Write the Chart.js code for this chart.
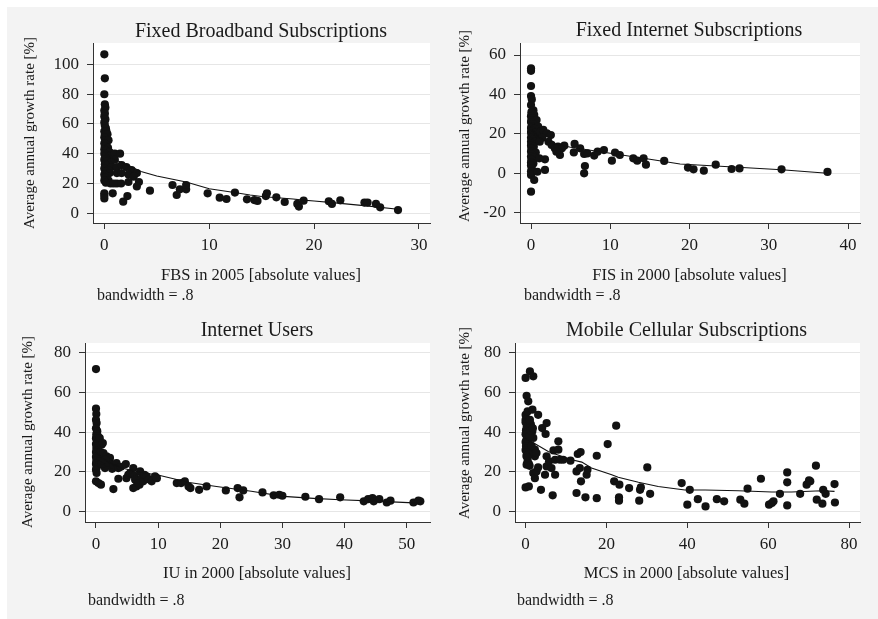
<!DOCTYPE html>
<html><head><meta charset="utf-8">
<script src="https://cdn.jsdelivr.net/npm/chart.js@4.4.1/dist/chart.umd.min.js"></script>
<style>
html,body{margin:0;padding:0;background:#fff;width:878px;height:619px;overflow:hidden}
#bg{position:absolute;left:7px;top:7px;width:871px;height:612px;background:#f3f3f3}
canvas{position:absolute}
</style></head><body>
<div id="bg"></div>
<canvas id="c1" width="439" height="309" style="left:0px;top:0px;width:439px;height:309px"></canvas>
<canvas id="c2" width="439" height="309" style="left:439px;top:0px;width:439px;height:309px"></canvas>
<canvas id="c3" width="439" height="310" style="left:0px;top:309px;width:439px;height:310px"></canvas>
<canvas id="c4" width="439" height="310" style="left:439px;top:309px;width:439px;height:310px"></canvas>
<script>
// ---------- Panel 1: Fixed Broadband Subscriptions ----------
const fbsX = [0,0.05,0,0.05,0.1,0,0.05,0,0.1,0,0.05,0.15,0,0.2,0.05,0.3,0,0.1,0.4,0,0.2,0.05,0.35,0,0.15,0.5,0,0.25,0.1,0.5,0,0.3,0.6,0.05,0.2,0.7,0,0.4,0.1,0.5,0,0.25,0.05,0.4,0,0.15,0.6,0,0,0,0.8,1,1.5,1,1.2,1.2,1.2,0.9,1.6,1.65,2.1,2.6,3.1,1.65,2.3,2.8,3.3,2.3,3.1,1.8,2.2,4.35,6.5,6.9,7.2,7.8,7.8,9.85,11,11.65,12.45,13.6,14.3,14.6,15.4,15.5,16.4,17.2,18.4,18.55,19,21.4,21.7,22.5,24.8,25.1,25.9,26.3,28];
const fbsY = [106.7,90.6,79.9,73.2,71,69,67,65,63,61,59,57,55,55,53,53,51,49,49,47,46,45,44,43,42,41,40,39,38,38,36,35,34,33,32,31,30,29,28,27,26,25,24,22,22,20.5,20,13.4,12,10,13.4,40,40,36,31,27,20,20,20,32.4,31,29,27,27,26,24.6,21,21,18,7.8,11.6,15.2,19,12.3,16.1,16.1,19,13.4,10.5,9.6,13.9,9.4,8.9,8.3,11.6,13.4,10.7,7.6,6.3,4.5,8.5,8.1,6.3,8.7,7.2,7.2,6.3,4,2.2];
const fbsFitX = [0,0.5,1,1.5,2.6,3.5,5,7.8,10,12.4,13.9,15,18,18.7,20,22,25,28];
const fbsFitY = [42,38,36,34.6,31,28,25,21,16.5,14,12.3,11.3,9.6,9,8.3,7,5,2.7];
const fbsXTicks = [0,10,20,30];
const fbsYTicks = [0,20,40,60,80,100];
const fbsXRange = [-1.08,31.05];
const fbsYRange = [-6.5,114.3];

// ---------- Panel 2: Fixed Internet Subscriptions ----------
const fisX = [0,0,0,0,0.1,0,0.3,0.05,0.4,0,0.15,0.05,0.7,0,0.25,0.1,0.9,0,0.4,0.15,0,0.6,0.05,0.3,0,0.8,0.2,0,0.5,0.1,0,0.35,0.05,0,0.6,0.15,0,0.4,0.05,0,0.3,0,0.1,0,0,0.8,0.4,0,1.2,1.55,2,2.5,1.4,1.1,1.76,1.76,1.05,2.2,2.6,3,3.4,3.9,4.2,3.65,3.2,5.5,5.4,6.2,6.7,7.1,6.8,6.7,7.97,8.4,9.2,10.2,10.6,11.2,12.9,13.4,14.2,14.5,16.8,19.8,20.5,21.8,23.3,25.3,26.3,31.6,37.4];
const fisY = [53.2,52,44.3,39.2,37.5,34.6,32,31,29.6,29,28,27,27,26,25,24,23.7,23,22.5,21.5,21,20.5,20,19,18,18,17,16,16,15,14,13.5,12.5,11,10.5,9.5,8.5,8,7,5.5,5,4,2.5,1,-0.8,0.8,-3.4,-9.3,21,22,20.3,19.4,18,16,7.1,1.7,7.6,16,14.4,12.7,13.5,12.7,14,9.3,11,14.9,10.6,12.7,9.8,10.1,3.7,0,9,11,11.8,6.4,10.5,9.3,7.6,6.4,7.6,4.4,6.3,2.9,2,1.35,4.4,2.2,2.5,2,0.7];
const fisFitX = [0,0.5,1,2,2.4,5,10,15,18.8,25,31.6,37.4];
const fisFitY = [22,20,18,16,15.4,13.2,10.2,7.1,4.7,3.3,1.8,0];
const fisXTicks = [0,10,20,30,40];
const fisYTicks = [-20,0,20,40,60];
const fisXRange = [-1.39,41.5];
const fisYRange = [-25.2,66.1];

// ---------- Panel 3: Internet Users ----------
const iuX = [0,0,0.05,0,0.1,0,0.2,0.05,0.3,0,0.15,0.45,0,0.25,0.05,0.35,0,0.15,0.5,0,0.25,0.05,0.4,0,0.2,0.1,0,0.1,0,0.4,0.8,0.6,0.9,1.1,0.7,1.2,1.7,2.25,1.45,0.9,1.3,2,1.5,2.6,2.8,3.3,3.6,2.8,3.6,4,4.8,4.9,5.2,5.5,6,6,6.2,6.3,6.5,7,7.1,7.35,6.8,7.6,7.8,8.15,8.5,8.96,9.5,9.8,13,13.7,14.3,14.9,15.2,16.6,17.8,20.9,22.8,23.1,23.7,26.8,28.6,29.5,30,33.7,35.9,39.3,43.1,43.8,44.5,44.7,45.6,46.8,47.4,51.1,51.9,52.2];
const iuY = [71.9,51.9,49.2,46.3,44.6,42,40.5,39,38,37,36,35.5,34,33,32,31,30,29,28.5,27.5,26.5,25.5,25,24,23,22,21,19.4,15.2,14.3,13.5,37,33.7,34.5,30,29.5,27.8,27,21.9,24,25.5,24.5,26,21.5,23.6,24.4,21.9,11.3,16.5,22.5,23.9,16.8,18.5,19.4,21.9,11.8,18,16,12.6,13.5,20.2,16.8,14.3,15.2,18.5,17.7,16.2,15.2,17.7,16.8,14.3,14.3,15.2,12.6,11.8,10.9,12.6,10.6,11.8,7.1,10.6,9.6,8.1,8.4,7.9,7.4,6.2,7.1,5.1,6.2,6.7,5.1,6.2,4.5,5.4,4.5,5.4,5.1];
const iuFitX = [0,1,2,4,6,8,9.8,15,19.4,25,30.2,35,39.3,45,52];
const iuFitY = [30,27,25,22,20.5,19.3,18.5,14.6,12.6,10.2,7.6,6.6,5.9,5.2,4.2];
const iuXTicks = [0,10,20,30,40,50];
const iuYTicks = [0,20,40,60,80];
const iuXRange = [-1.77,53.76];
const iuYRange = [-5.35,85.05];

// ---------- Panel 4: Mobile Cellular Subscriptions ----------
const mcsX = [0,1.07,1.9,0.25,0.66,0,0.5,1.7,3.1,0,1.65,4.1,5.2,4.95,0,0.8,0.25,0.5,1.9,2.3,2.7,2.3,2.3,1.9,3.1,3.8,4.8,5.2,5.2,5.8,6.4,6.7,7.3,6.9,8.1,8.1,7.3,8.5,9.3,11.1,12.6,12.6,12.9,13.6,13.4,13.7,15.1,15.3,14.8,17.6,17.6,20.3,22.4,21.9,23.2,23.1,23.1,25.6,28.3,28.5,28.1,30.1,30.8,38.6,40.6,40,42.6,44.5,47.3,49.1,53.1,54.1,54.9,58.2,60.2,60.9,61.3,62.9,64.7,64.7,64.7,67.9,69.5,70.1,70.4,71.8,72,73.4,73.6,74.2,76.4,76.5,0,0.3,0.1,0.6,0,0.4,0.2,0,0.7,0.1,0.5,0,0.3,0.8,0.2,1,1.2,1.5,1.3,0.9,1.8,0.5,0.8,1.0,1.07,2.7];
const mcsY = [67.4,70.7,68.2,58.4,55.6,48.8,50.5,51.4,48.8,46.3,40.4,42.1,44.6,39.1,12.1,12.6,23.6,25.3,19.4,16.8,20.2,27.8,31.2,37.1,22.2,10.9,18.5,22.7,27.8,25.3,21.9,8.1,18.5,30.8,35.4,31.2,26.1,26.1,26.1,25.6,9.3,20.2,29,30,21.9,15.2,18.5,21,7.1,28.1,6.7,34,43.3,15.2,13.5,7.1,5.4,11.8,10.9,12.1,5.4,22.2,8.9,14.3,10.9,3.4,6.2,2.5,6.2,5.1,5.9,3.9,11.5,16.5,3.4,4.2,5.1,8.9,19.7,14.7,3,8.9,13.5,15.7,15.2,23.1,5.9,3.9,10.9,8.9,13.8,4.5,45,43,41,40,39,37.5,36,35,34,33,32,31,30,29,28,38,41,33,44,46,42,27,24,23,46.3,29.5];
const mcsFitX = [0,1.07,5.6,8,11.4,13.9,16.3,21.3,22.9,27.9,32.8,39.4,44.4,52.6,60.9,65.8,73.2,76.4];
const mcsFitY = [37,35.7,30.3,28.5,26.1,24.9,21.9,18.5,17.2,14.7,12.6,10.8,10.8,10.4,9.8,9.8,10.4,10.1];
const mcsXTicks = [0,20,40,60,80];
const mcsYTicks = [0,20,40,60,80];
const mcsXRange = [-2.62,82.7];
const mcsYRange = [-5.35,85.05];

const yAxisTitle = 'Average annual growth rate [%]';
const noteText = 'bandwidth = .8';

const FONT = '"Liberation Serif", "Times New Roman", serif';
const INK = '#1a1a1a';

const panels = [
  {id:'c1', off:[0,0], size:[439,309], area:[93,43,430,223],
   title:'Fixed Broadband Subscriptions', xTitle:'FBS in 2005 [absolute values]',
   X:fbsX, Y:fbsY, FX:fbsFitX, FY:fbsFitY, xt:fbsXTicks, yt:fbsYTicks, xr:fbsXRange, yr:fbsYRange,
   titlePos:[261,36.5], xTitlePos:[261,280], notePos:[97,300], yTitlePos:[30,133]},
  {id:'c2', off:[439,0], size:[439,309], area:[520,43,860,223],
   title:'Fixed Internet Subscriptions', xTitle:'FIS in 2000 [absolute values]',
   X:fisX, Y:fisY, FX:fisFitX, FY:fisFitY, xt:fisXTicks, yt:fisYTicks, xr:fisXRange, yr:fisYRange,
   titlePos:[689,36], xTitlePos:[689.5,280], notePos:[524,300], yTitlePos:[465,126]},
  {id:'c3', off:[0,309], size:[439,310], area:[85,343,430,522],
   title:'Internet Users', xTitle:'IU in 2000 [absolute values]',
   X:iuX, Y:iuY, FX:iuFitX, FY:iuFitY, xt:iuXTicks, yt:iuYTicks, xr:iuXRange, yr:iuYRange,
   titlePos:[257,335.5], xTitlePos:[257,577.5], notePos:[88,605], yTitlePos:[28,432]},
  {id:'c4', off:[439,309], size:[439,310], area:[515,343,860,522],
   title:'Mobile Cellular Subscriptions', xTitle:'MCS in 2000 [absolute values]',
   X:mcsX, Y:mcsY, FX:mcsFitX, FY:mcsFitY, xt:mcsXTicks, yt:mcsYTicks, xr:mcsXRange, yr:mcsYRange,
   titlePos:[686.5,335.5], xTitlePos:[686.5,577.5], notePos:[517,605], yTitlePos:[465,423]}
];

const bgPlugin = {
  id:'plotBg',
  beforeDraw(chart){
    const a = chart.chartArea, ctx = chart.ctx;
    ctx.save(); ctx.fillStyle = '#ffffff';
    ctx.fillRect(a.left, a.top, a.right - a.left, a.bottom - a.top);
    ctx.restore();
  }
};
const textPlugin = {
  id:'panelText',
  afterDraw(chart, args, o){
    const ctx = chart.ctx;
    ctx.save();
    ctx.fillStyle = INK;
    ctx.textBaseline = 'alphabetic';
    ctx.textAlign = 'center';
    ctx.font = '20px ' + FONT;
    ctx.fillText(o.title, o.titlePos[0], o.titlePos[1]);
    ctx.font = '16.5px ' + FONT;
    ctx.fillText(o.xTitle, o.xTitlePos[0], o.xTitlePos[1]);
    ctx.textAlign = 'left';
    ctx.font = '16px ' + FONT;
    ctx.fillText(o.note, o.notePos[0], o.notePos[1]);
    ctx.save();
    ctx.translate(o.yTitlePos[0], o.yTitlePos[1]);
    ctx.rotate(-Math.PI/2);
    ctx.textAlign = 'center';
    ctx.textBaseline = 'middle';
    ctx.font = '15px ' + FONT;
    ctx.fillText(o.yTitle, 0, 0);
    ctx.restore();
    ctx.restore();
  }
};

panels.forEach(p => {
  const ox = p.off[0], oy = p.off[1];
  const w = p.size[0], h = p.size[1];
  const L = p.area[0]-ox, T = p.area[1]-oy, R = p.area[2]-ox, B = p.area[3]-oy;
  const loc = (pt) => [pt[0]-ox, pt[1]-oy];
  const pts = p.X.map((x,i) => ({x:x, y:p.Y[i]}));
  const fit = p.FX.map((x,i) => ({x:x, y:p.FY[i]}));
  new Chart(document.getElementById(p.id), {
    type:'scatter',
    data:{datasets:[
      {type:'line', data:fit, borderColor:'#111', borderWidth:1.1, pointRadius:0, fill:false, tension:0, order:0},
      {data:pts, pointRadius:4.1, pointBackgroundColor:'#121212', pointBorderWidth:0, pointBorderColor:'#121212', order:1}
    ]},
    options:{
      responsive:false, animation:false, events:[],
      layout:{padding:{left:0, top:T, right:w-R, bottom:0}},
      plugins:{
        legend:{display:false}, tooltip:{enabled:false}, title:{display:false},
        panelText:{title:p.title, xTitle:p.xTitle, note:noteText, yTitle:yAxisTitle,
          titlePos:loc(p.titlePos), xTitlePos:loc(p.xTitlePos), notePos:loc(p.notePos), yTitlePos:loc(p.yTitlePos)}
      },
      scales:{
        x:{type:'linear', position:'bottom', min:p.xr[0], max:p.xr[1],
           afterBuildTicks:s => { s.ticks = p.xt.map(v => ({value:v})); },
           afterFit:s => { s.height = h - B; },
           grid:{drawOnChartArea:false, drawTicks:true, tickLength:6, tickColor:'#333', tickWidth:1},
           border:{display:true, color:'#333', width:1},
           ticks:{font:{family:FONT, size:17}, color:INK, padding:6, maxRotation:0, autoSkip:false}},
        y:{type:'linear', position:'left', min:p.yr[0], max:p.yr[1],
           afterBuildTicks:s => { s.ticks = p.yt.map(v => ({value:v})); },
           afterFit:s => { s.width = L; },
           grid:{color:'#e6e6e6', lineWidth:1, drawTicks:true, tickLength:6, tickColor:'#333', tickWidth:1},
           border:{display:true, color:'#333', width:1},
           ticks:{font:{family:FONT, size:17}, color:INK, padding:8, autoSkip:false}}
      }
    },
    plugins:[bgPlugin, textPlugin]
  });
});
</script>
</body></html>
